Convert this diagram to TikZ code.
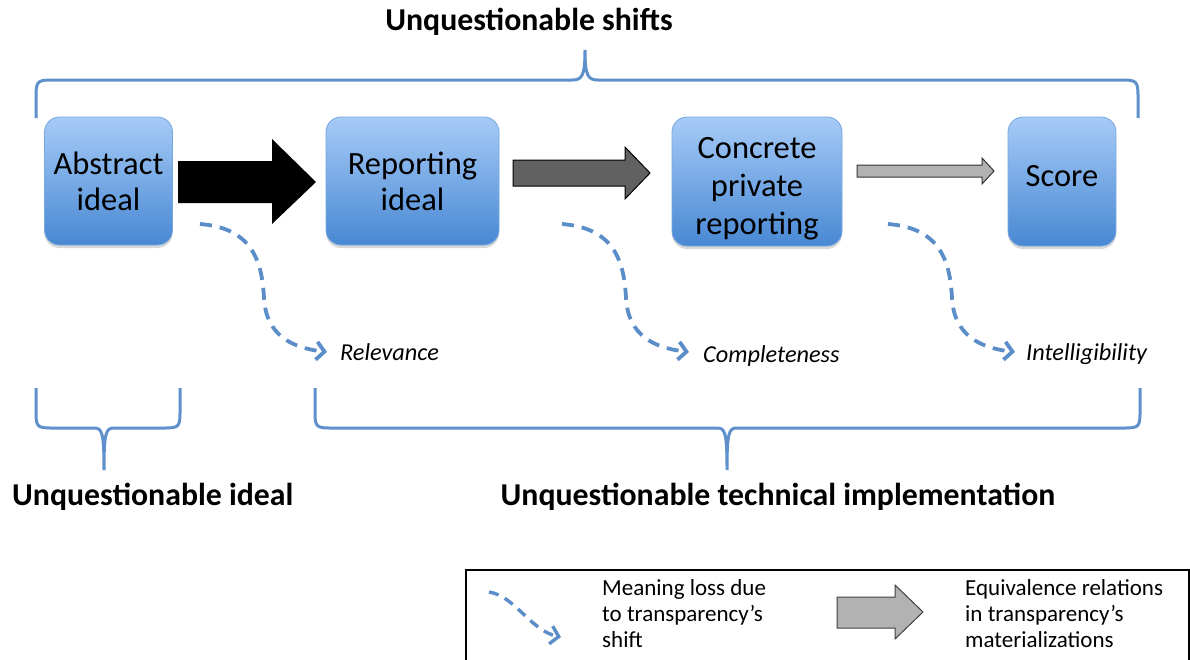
\documentclass[tikz,border=0pt]{standalone}
\usepackage{fontspec}
\setmainfont{Carlito}
\usetikzlibrary{arrows.meta,shadows}
\definecolor{boxtop}{HTML}{A6CBF7}
\definecolor{boxbot}{HTML}{4888D3}
\definecolor{boxline}{HTML}{77A7DE}
\definecolor{bracec}{HTML}{5E90CB}
\definecolor{dashc}{HTML}{5B8EC9}
\tikzset{
  idea/.style={rounded corners=15pt, top color=boxtop, bottom color=boxbot, draw=boxline, line width=0.8pt,
    drop shadow={opacity=0.3, shadow xshift=0pt, shadow yshift=-3pt},
    inner sep=0pt, align=center, font=\fontsize{32.5}{36}\selectfont},
  ideatext/.style={inner sep=0pt, align=center, font=\fontsize{32.5}{38}\selectfont},
  bracep/.style={draw=bracec, line width=3pt},
  lossline/.style={draw=dashc, line width=3.8pt, dash pattern=on 12pt off 8pt, -{Straight Barb[length=8pt,width=18pt]}},
  heading/.style={font=\bfseries\fontsize{31.8}{36}\selectfont, inner sep=0pt},
  lossname/.style={font=\itshape\fontsize{24.3}{28}\selectfont, inner sep=0pt, anchor=base west},
  legtext/.style={font=\fontsize{23}{26}\selectfont, inner sep=0pt, anchor=north west, align=left},
}
\begin{document}
\begin{tikzpicture}[x=1pt,y=-1pt]
\useasboundingbox (0,0) rectangle (1190,659);
\fill[white] (0,0) rectangle (1190,659);

% headings
\node[heading] (hshift) at (529,22) {Unquestionable shifts};
\node[heading, anchor=west] (hideal) at (12,497) {Unquestionable ideal};
\node[heading] (himpl) at (778,497) {Unquestionable technical implementation};

% braces
\draw[bracep] (36,118) -- (36,95) .. controls (36,82) and (38,80) .. (50,80) -- (572,80)
  .. controls (582,80) and (585,76) .. (585,50) .. controls (585,76) and (588,80) .. (598,80)
  -- (1124,80) .. controls (1136,80) and (1138,82) .. (1138,95) -- (1138,118);
\draw[bracep] (36,388) -- (36,414) .. controls (36,426) and (38,428) .. (50,428) -- (94,428)
  .. controls (102,428) and (104,432) .. (104,470) .. controls (104,432) and (106,428) .. (114,428)
  -- (166,428) .. controls (178,428) and (180,426) .. (180,414) -- (180,388);
\draw[bracep] (315,388) -- (315,414) .. controls (315,426) and (317,428) .. (329,428) -- (717,428)
  .. controls (725,428) and (727,432) .. (727,470) .. controls (727,432) and (729,428) .. (737,428)
  -- (1126,428) .. controls (1138,428) and (1140,426) .. (1140,414) -- (1140,388);

% boxes
\node[idea, minimum width=128pt, minimum height=128pt] (abs) at (108.5,181) {Abstract\\ideal};
\node[idea, minimum width=173pt, minimum height=128pt] (rep) at (412.5,181) {Reporting\\ideal};
\node[idea, minimum width=170pt, minimum height=129pt,
  label={[ideatext, name=cont, yshift=-7pt]center:Concrete\\private\\reporting}] (con) at (757,181.5) {};
\node[idea, minimum width=108pt, minimum height=129pt,
  label={[ideatext, name=scot, yshift=5pt]center:Score}] (sco) at (1062,181.5) {};

% block arrows
\fill[black] (178,161) -- (272,161) -- (272,139) -- (316,182) -- (272,224) -- (272,203) -- (178,203) -- cycle;
\filldraw[fill=black!62, draw=black, line width=1pt] (513,160) -- (625,160) -- (625,147) -- (650,173) -- (625,199) -- (625,186) -- (513,186) -- cycle;
\filldraw[fill=black!30, draw=black!80, line width=1pt] (857,165) -- (982,165) -- (982,158) -- (994,171) -- (982,184) -- (982,177) -- (857,177) -- cycle;

% meaning-loss curves
\foreach \dx/\nm in {0/a,362/b,688/c}{
  \coordinate (s\nm) at (200+\dx,224);
  \coordinate (m\nm) at (264+\dx,298);
  \coordinate (e\nm) at (327+\dx,352);
  \draw[lossline] (s\nm) .. controls +(50,4) and +(-2,-40) .. (m\nm) .. controls +(2,38) and +(-34,-4) .. (e\nm);
}
\node[lossname] (rel) at (340,360) {Relevance};
\node[lossname] (cmp) at (703,362) {Completeness};
\node[lossname] (itl) at (1026,360) {Intelligibility};

% legend
\draw[black, line width=1.2pt] (466,690) -- (466,570) -- (1189,570) -- (1189,690);
\coordinate (ls) at (489,592);
\coordinate (le) at (561,637);
\draw[lossline, line width=3.4pt, dash pattern=on 10pt off 7pt] (ls) .. controls +(26,4) and +(-30,-6) .. (le);
\node[legtext] (lt1) at (602,579) {Meaning loss due\\to transparency’s\\shift};
\filldraw[fill=black!30, draw=black!75, line width=1pt] (837,597) -- (895,597) -- (895,585) -- (923,612) -- (895,639) -- (895,628) -- (837,628) -- cycle;
\node[legtext] (lt2) at (965,579) {Equivalence relations\\in transparency’s\\materializations};
\end{tikzpicture}
\end{document}
